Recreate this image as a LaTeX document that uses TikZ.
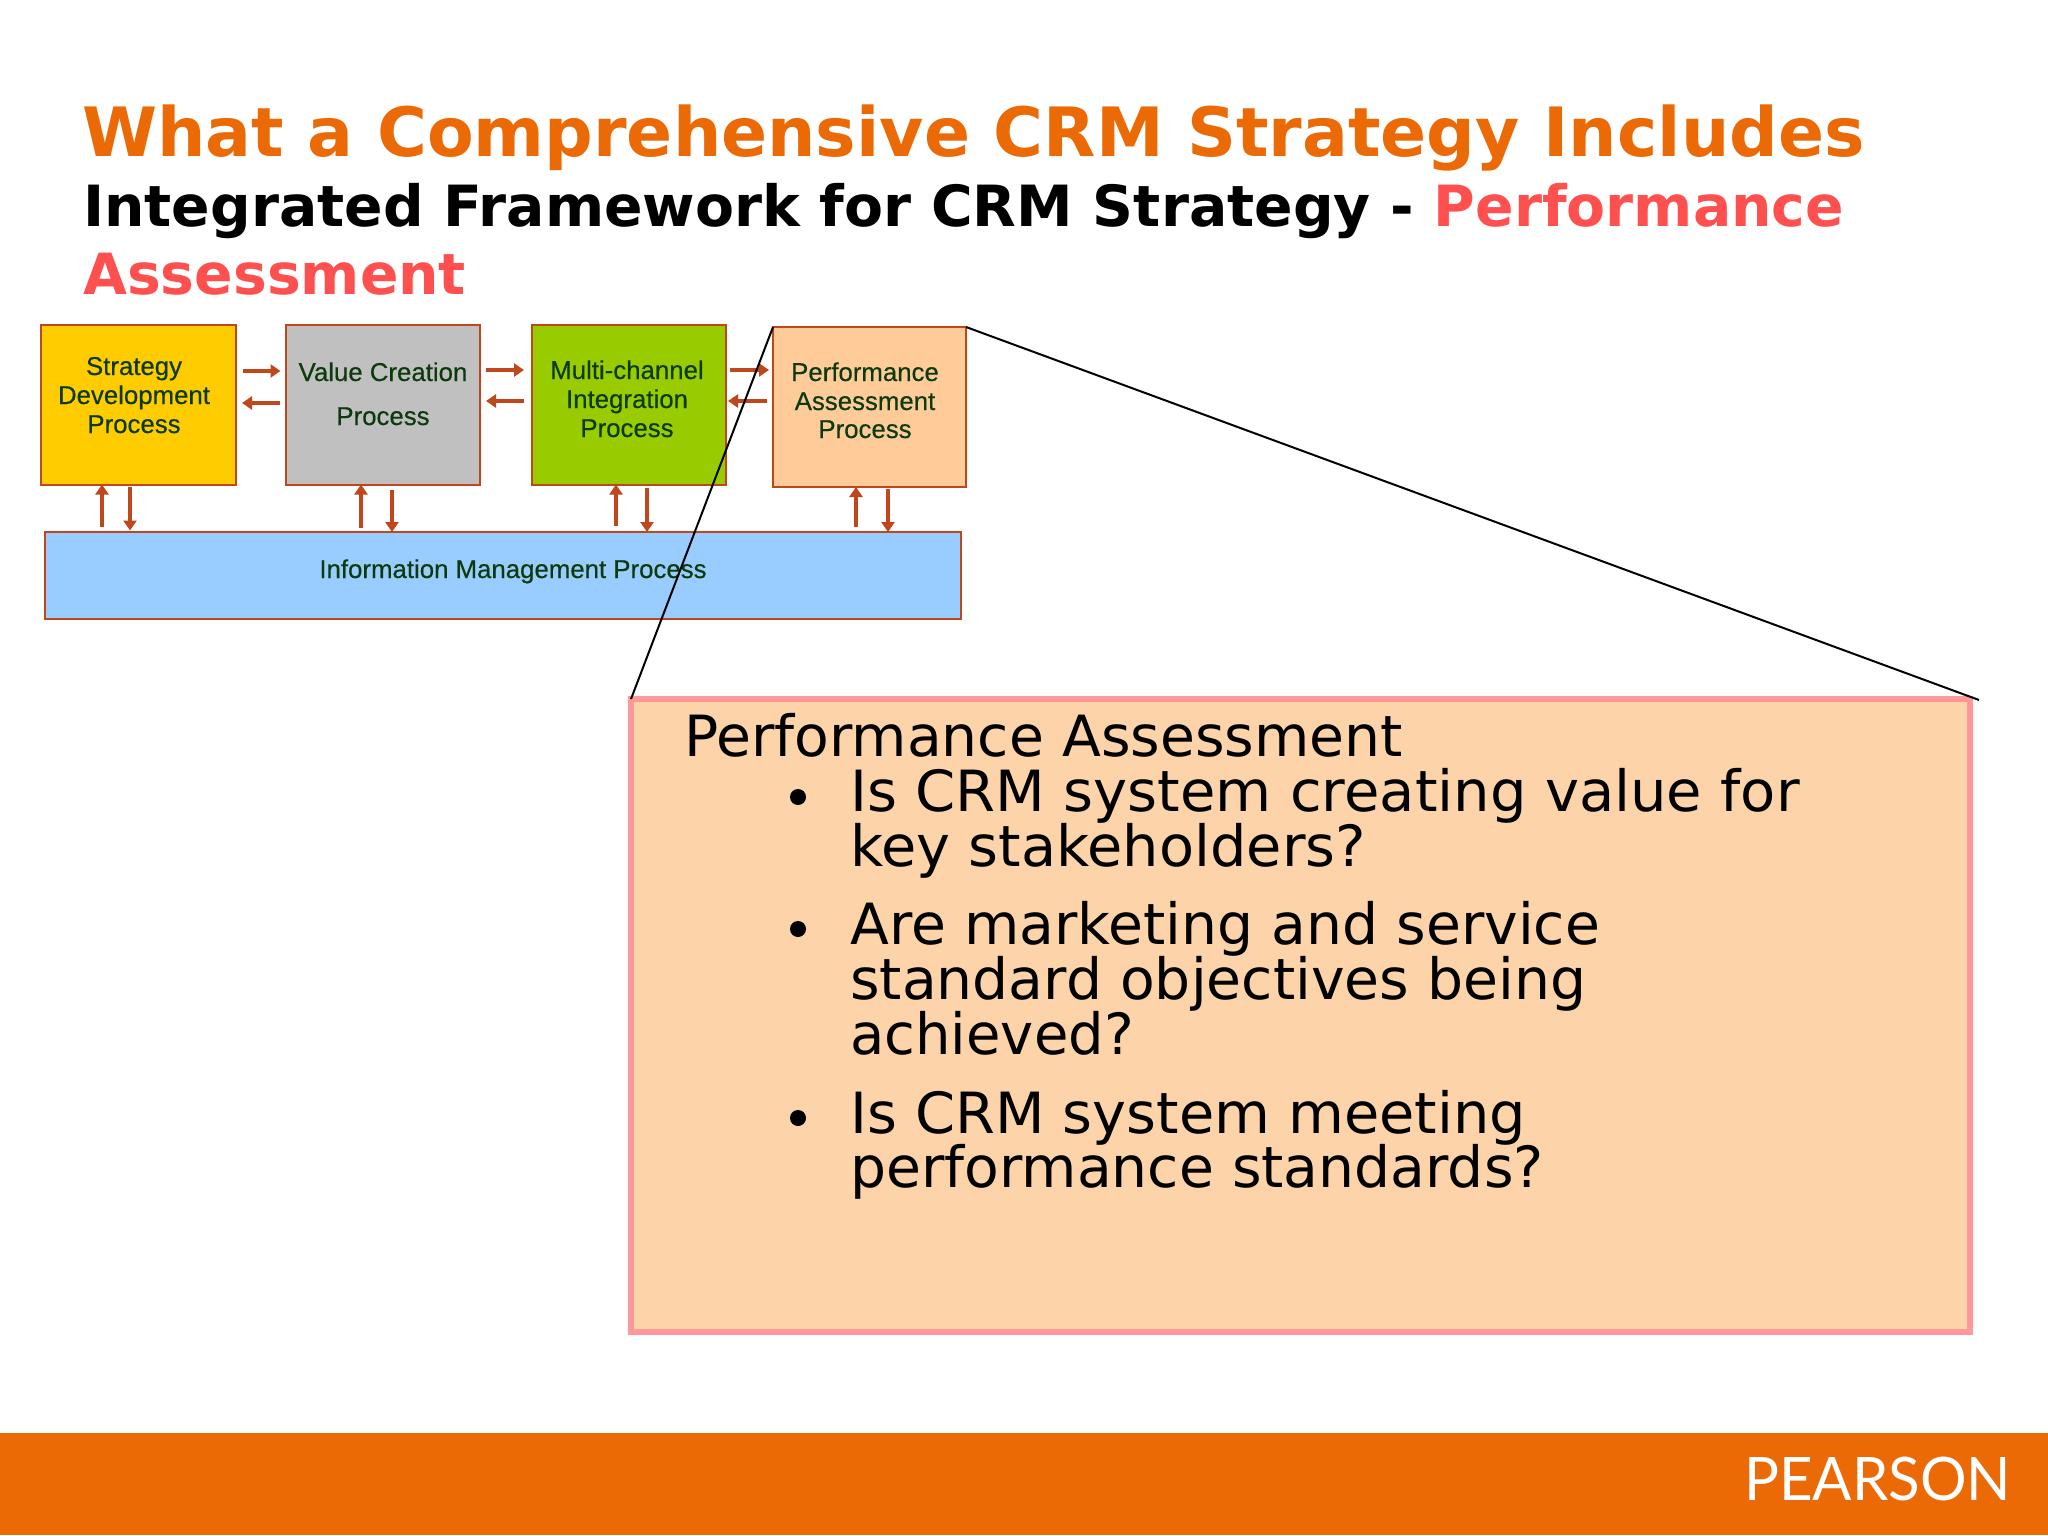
\documentclass[tikz,border=0pt]{standalone}
\usepackage{graphicx}
\usepackage{fontspec}
\setmainfont{DejaVu Sans}
\newfontfamily\arialf[FakeBold=0.35]{Liberation Sans}
\newfontfamily\logof{Lato}
\usetikzlibrary{arrows.meta}
\definecolor{crmorange}{HTML}{EC6A06}
\definecolor{crmred}{HTML}{FF5050}
\definecolor{crmline}{HTML}{C0461C}
\definecolor{crmtext}{HTML}{0C3A0C}
\definecolor{yellowbox}{HTML}{FFCC00}
\definecolor{greybox}{HTML}{C0C0C0}
\definecolor{greenbox}{HTML}{99CC00}
\definecolor{peachbox}{HTML}{FFCC99}
\definecolor{bluebox}{HTML}{99CCFF}
\definecolor{pinkedge}{HTML}{FF9999}
\definecolor{detailfill}{HTML}{FDD3AA}
\tikzset{
  procbox/.style={draw=crmline,line width=2pt,anchor=north west,inner sep=0pt,outer sep=0pt},
  proctext/.style={anchor=base,inner sep=0pt,text=crmtext,font=\arialf\fontsize{25.8}{25.8}\selectfont},
  flow/.style={draw=crmline,line width=3.4pt,-{Triangle[length=10pt,width=13pt]}},
  titletext/.style={anchor=base west,inner sep=0pt,font=\bfseries\fontsize{68}{68}\selectfont,text=crmorange},
  subtext/.style={anchor=base west,inner sep=0pt,font=\bfseries\fontsize{56.8}{56.8}\selectfont},
  bodytext/.style={anchor=base west,inner sep=0pt,font=\fontsize{56.8}{56.8}\selectfont,text=black},
  zoomline/.style={draw=black,line width=2pt},
}
\begin{document}
\begin{tikzpicture}[x=1pt,y=-1pt]
\useasboundingbox (0,0) rectangle (2048,1536);
\fill[white] (0,0) rectangle (2048,1536);
\node[titletext] (title) at (82,157) {What a Comprehensive CRM Strategy Includes};
\node[subtext] (sub) at (83,226) {Integrated Framework for CRM Strategy - \textcolor{crmred}{Performance}};
\node[subtext,text=crmred] (sub2) at (83,294) {Assessment};
% process boxes
\node[procbox,fill=yellowbox,minimum width=195pt,minimum height=160pt] (sd) at (40.5,324.5) {};
\node[procbox,fill=greybox,minimum width=194pt,minimum height=160pt] (vc) at (286,324.5) {};
\node[procbox,fill=greenbox,minimum width=194pt,minimum height=160pt] (mc) at (532,324.5) {};
\node[procbox,fill=peachbox,minimum width=193pt,minimum height=160pt] (pa) at (773,327) {};
\node[procbox,fill=bluebox,minimum width=916pt,minimum height=87pt] (im) at (45,532) {};
% labels
\node[proctext] (t1) at (134,375) {Strategy};
\node[proctext] (t2) at (134,404) {Development};
\node[proctext] (t3) at (134,433) {Process};
\node[proctext] (t4) at (383,381) {Value Creation};
\node[proctext] (t5) at (383,425) {Process};
\node[proctext] (t6) at (627,379) {Multi-channel};
\node[proctext] (t7) at (627,408) {Integration};
\node[proctext] (t8) at (627,437) {Process};
\node[proctext] (t9) at (865,381) {Performance};
\node[proctext] (t10) at (865,410) {Assessment};
\node[proctext] (t11) at (865,438) {Process};
\node[proctext] (t12) at (513,578) {Information Management Process};
% flows
\draw[flow] (sd.east |- 0,371) ++(7,0) -- ++(38,0);
\draw[flow] (vc.west |- 0,403) ++(-6,0) -- ++(-38,0);
\draw[flow] (vc.east |- 0,370) ++(6,0) -- ++(38,0);
\draw[flow] (mc.west |- 0,401) ++(-8,0) -- ++(-38,0);
\draw[flow] (mc.east |- 0,370) ++(4,0) -- ++(39,0);
\draw[flow] (pa.west |- 0,401) ++(-6,0) -- ++(-39,0);
\draw[flow] (im.north -| 102,0) ++(0,-5) -- (sd.south -| 102,0);
\draw[flow] (sd.south -| 130,0) ++(0,2) -- ++(0,44);
\draw[flow] (im.north -| 361,0) ++(0,-4) -- (vc.south -| 361,0);
\draw[flow] (vc.south -| 392,0) ++(0,5) -- (im.north -| 392,0);
\draw[flow] (im.north -| 616,0) ++(0,-6) -- (mc.south -| 616,0);
\draw[flow] (mc.south -| 647,0) ++(0,3) -- (im.north -| 647,0);
\draw[flow] (im.north -| 856,0) ++(0,-5) -- (pa.south -| 856,0);
\draw[flow] (pa.south -| 888,0) ++(0,2) -- (im.north -| 888,0);
% detail panel
\node[anchor=north west,inner sep=0pt,outer sep=0pt,draw=pinkedge,line width=5.5pt,fill=detailfill,minimum width=1339pt,minimum height=633pt] (detail) at (631,699) {};
\coordinate (farcorner) at (1979,700);
\draw[zoomline] (pa.north west) -- (detail.north west);
\draw[zoomline] (pa.north east) -- (farcorner);
\node[bodytext] (b0) at (684,756) {Performance Assessment};
\foreach \nm/\yy in {d1/797,d2/929,d3/1118}{\fill (798,\yy) circle (8pt);}
\node[bodytext] (b1) at (850,811) {\scalebox{1.014}[1]{Is CRM system creating value for}};
\node[bodytext] (b2) at (850,866) {\scalebox{1.01}[1]{key stakeholders?}};
\node[bodytext] (b3) at (850,944.5) {Are marketing and service};
\node[bodytext] (b4) at (850,999) {standard objectives being};
\node[bodytext] (b5) at (850,1054) {\scalebox{0.986}[1]{achieved?}};
\node[bodytext] (b6) at (850,1133) {\scalebox{1.01}[1]{Is CRM system meeting}};
\node[bodytext] (b7) at (850,1187) {performance standards?};
% footer
\fill[crmorange] (0,1433) rectangle (2048,1535);
\node[anchor=base west,inner sep=0pt,text=white,font=\logof\fontsize{60}{60}\selectfont] (logo) at (1744,1500) {\scalebox{0.97}[1]{PEARSON}};
\end{tikzpicture}
\end{document}
